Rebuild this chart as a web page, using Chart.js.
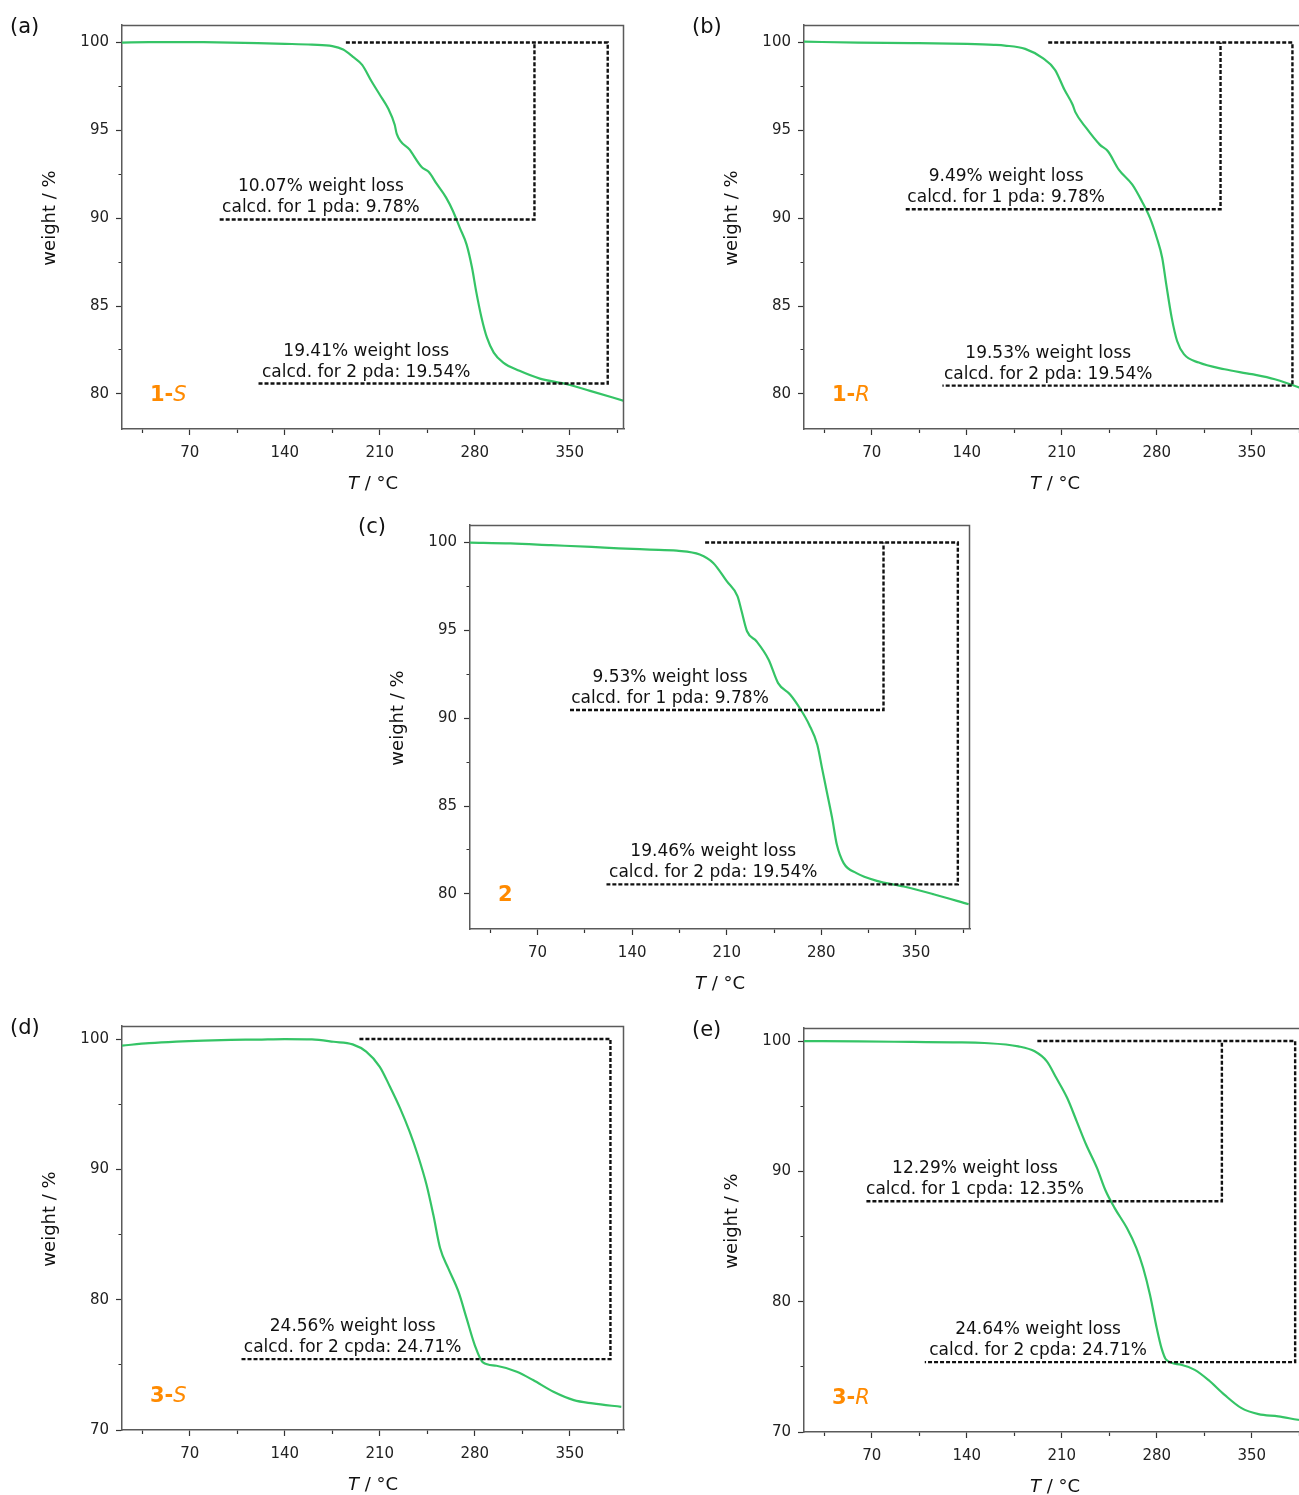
<!DOCTYPE html>
<html>
<head>
<meta charset="utf-8">
<title>TGA curves</title>
<script src="https://cdn.jsdelivr.net/npm/chart.js@4.4.1/dist/chart.umd.min.js"></script>
<style>
  html, body { margin: 0; padding: 0; background: #fff; overflow: hidden; width: 1299px; height: 1495px; }
  .panel { position: absolute; }
  .panel canvas { display: block; }
</style>
</head>
<body>
<script>
// ---- TGA traces: temperature (°C) and residual weight (%) ----
const temp1S   = [20,40,60,80,100,120,140,160,175,183,190,197,204,210,216,221,222.5,232,241,246,252,259,264,269,274,278,281,285,289,294,301,313,328,348,365,390];
const weight1S = [100.0,100.02,100.03,100.02,100.0,99.97,99.93,99.88,99.8,99.6,99.2,98.73,97.78,97.03,96.27,95.32,94.8,93.9,92.9,92.64,91.95,91.16,90.4,89.45,88.5,87.18,85.85,84.34,83.2,82.35,81.78,81.31,80.87,80.55,80.17,79.6];

const temp1R   = [20,60,100,140,160,168,183,196,205,212,218,220,228,238,244,252,262,269,275,280,284,287,291,295,300,311,330,350,367,385,390];
const weight1R = [100.05,100.0,99.97,99.92,99.87,99.83,99.64,99.11,98.45,97.31,96.46,96.04,95.14,94.19,93.81,92.77,91.91,90.97,90.02,88.89,87.75,86.23,84.34,83.01,82.26,81.78,81.4,81.12,80.83,80.36,80.2];

const temp2    = [20,50,80,110,130,153,173,190,200,210,218,221,225,232,241,248,257,264,271,277,280.5,284,288,291.5,296.5,306,321,341,363,389];
const weight2  = [100.0,99.95,99.85,99.75,99.67,99.6,99.54,99.32,98.84,97.8,96.94,96.09,94.95,94.38,93.33,92.0,91.34,90.58,89.63,88.49,87.16,85.83,84.31,82.79,81.75,81.18,80.74,80.42,79.98,79.41];

const temp3S   = [20,40,60,80,100,120,140,160,176,190,200,210,217.5,225,232,238,244.5,249.5,254.5,260.5,268,274,280,286,296,311,323,338,353,367,388];
const weight3S = [99.5,99.68,99.8,99.88,99.93,99.96,100.0,99.97,99.79,99.59,99.03,97.87,96.34,94.68,92.89,91.1,88.8,86.49,83.94,82.4,80.61,78.56,76.52,75.19,74.93,74.47,73.83,72.93,72.29,72.04,71.78];

const temp3R   = [20,60,100,130,153,178,190,199,206,214,221,228,236,242,249,258,265,270,275,280,283.5,287,298,308,318,330,342.5,355,369.5,384,390];
const weight3R = [100.0,99.97,99.93,99.9,99.85,99.59,99.21,98.44,97.16,95.63,93.84,92.04,90.25,88.59,87.18,85.65,84.11,82.58,80.53,77.97,76.44,75.54,75.16,74.77,74.0,72.85,71.83,71.37,71.2,70.94,70.85];

// ---- measured weight losses (%) and calculated values per ligand count ----
const loss1S = [10.07, 19.41];  const calc1S = [9.78, 19.54];
const loss1R = [9.49, 19.53];   const calc1R = [9.78, 19.54];
const loss2  = [9.53, 19.46];   const calc2  = [9.78, 19.54];
const loss3S = [24.56];         const calc3S = [24.71];
const loss3R = [12.29, 24.64];  const calc3R = [12.35, 24.71];
const ligandCount3S = [2];      // only the two-ligand step is marked for 3-S

// ---- temperatures bounding the dashed loss brackets ----
// [step-1 start, step-1 corner, top start, outer corner, step-2 start]
const bracket1S = [92, 324, 185, 378, 119.5];
const bracket1R = [95, 327, 200, 380, 122];
const bracket2  = [94, 326, 194, 381, 121];
const bracket3R = [66, 328, 192, 382, 109];
// [top start, outer corner, step start]
const bracket3S = [195, 380, 107];

// ---- temperatures at which the loss captions are centred ----
const caption1S = [166.6, 200];
const caption1R = [169, 200];
const caption2  = [168, 200];
const caption3S = [190];
const caption3R = [146, 192.5];

// ---- axis ticks ----
const tempRange   = [20, 390];
const xMajorTicks = [70, 140, 210, 280, 350];
const xMinorTicks = [35, 105, 175, 245, 315, 385];
const yRangeNarrow   = [78, 101];
const yMajorNarrow   = [80, 85, 90, 95, 100];
const yMinorNarrow   = [82.5, 87.5, 92.5, 97.5];
const yRangeWide     = [70, 101];
const yMajorWide     = [70, 80, 90, 100];
const yMinorWide     = [75, 85, 95];

// ---------------------------------------------------------------
const FONT = '"DejaVu Sans", "Liberation Sans", sans-serif';
Chart.defaults.font.family = FONT;
Chart.defaults.color = '#222';

const GREEN = '#35c466';
const ORANGE = '#ff8a00';
const FRAME = '#5a5a5a';
const DASH_COLOR = '#111';

function zip(xs, ys) { return xs.map((x, i) => ({ x, y: ys[i] })); }
function f(style, weight, size) { return `${style} ${weight} ${size}px ${FONT}`; }

function drawRuns(ctx, runs, x, y, align) {
  let total = 0;
  runs.forEach(r => { ctx.font = r.font; r.w = ctx.measureText(r.text).width; total += r.w; });
  let cx = align === 'center' ? x - total / 2 : x;
  ctx.textAlign = 'left';
  runs.forEach(r => { ctx.font = r.font; ctx.fillStyle = r.color; ctx.fillText(r.text, cx, y); cx += r.w; });
}

function lossCaptions(losses, calcs, ligand, counts) {
  return losses.map((l, i) => [
    `${l.toFixed(2)}% weight loss`,
    `calcd. for ${counts ? counts[i] : i + 1} ${ligand}: ${calcs[i].toFixed(2)}%`
  ]);
}

function bracketSets(br, levels) {
  if (levels.length === 1) {
    return [[{ x: br[0], y: 100 }, { x: br[1], y: 100 }, { x: br[1], y: levels[0] }, { x: br[2], y: levels[0] }]];
  }
  return [
    [{ x: br[0], y: levels[0] }, { x: br[1], y: levels[0] }, { x: br[1], y: 100 }],
    [{ x: br[2], y: 100 }, { x: br[3], y: 100 }, { x: br[3], y: levels[1] }, { x: br[4], y: levels[1] }]
  ];
}

const AXIS_W = 122, AXIS_H = 70, PAD_TOP = 25, PAD_RIGHT = 10;

function makePanel(p) {
  const cw = AXIS_W + p.plotW + PAD_RIGHT;
  const ch = PAD_TOP + p.plotH + AXIS_H;
  const wrap = document.createElement('div');
  wrap.className = 'panel';
  wrap.style.left = (p.left - AXIS_W) + 'px';
  wrap.style.top = (p.top - PAD_TOP) + 'px';
  const canvas = document.createElement('canvas');
  canvas.width = cw; canvas.height = ch;
  canvas.style.width = cw + 'px'; canvas.style.height = ch + 'px';
  wrap.appendChild(canvas);
  document.body.appendChild(wrap);

  const levels = p.losses.map(l => 100 - l);
  const captions = lossCaptions(p.losses, p.calcs, p.ligand, p.counts);

  const dashed = bracketSets(p.bracket, levels).map(pts => ({
    data: pts, borderColor: DASH_COLOR, borderWidth: 2.4, borderDash: [4, 2],
    pointRadius: 0, tension: 0, fill: false
  }));

  const overlay = {
    id: 'overlay' + p.letter,
    afterDatasetsDraw(chart) {
      const { ctx, chartArea: a, scales: { x, y } } = chart;
      ctx.save();
      // top and right edges of the frame
      ctx.strokeStyle = FRAME; ctx.lineWidth = 1.5; ctx.setLineDash([]);
      ctx.beginPath();
      ctx.moveTo(a.left, a.top + 0.5); ctx.lineTo(a.right - 0.5, a.top + 0.5); ctx.lineTo(a.right - 0.5, a.bottom);
      ctx.stroke();

      // loss captions above each dashed step
      ctx.fillStyle = '#111'; ctx.font = f('normal', 'normal', 17);
      ctx.textAlign = 'center'; ctx.textBaseline = 'alphabetic';
      captions.forEach((c, i) => {
        const px = x.getPixelForValue(p.captionT[i]);
        const py = y.getPixelForValue(levels[i]);
        ctx.fillText(c[0], px, py - 28);
        ctx.fillText(c[1], px, py - 7);
      });

      // compound name
      drawRuns(ctx, p.name, a.left + 28, a.bottom - 28, 'left');

      // panel letter
      ctx.fillStyle = '#111'; ctx.font = f('normal', 'normal', 21); ctx.textAlign = 'left';
      ctx.fillText(p.letter, a.left - 112, a.top + 8);

      // axis titles
      ctx.save();
      ctx.translate(a.left - 72, (a.top + a.bottom) / 2 - 9);
      ctx.rotate(-Math.PI / 2);
      ctx.font = f('normal', 'normal', 18); ctx.textAlign = 'center'; ctx.textBaseline = 'middle';
      ctx.fillStyle = '#111';
      ctx.fillText('weight / %', 0, 0);
      ctx.restore();
      ctx.textBaseline = 'alphabetic';
      drawRuns(ctx, [
        { text: 'T', font: f('italic', 'normal', 18), color: '#111' },
        { text: ' / °C', font: f('normal', 'normal', 18), color: '#111' }
      ], (a.left + a.right) / 2, a.bottom + 60, 'center');
      ctx.restore();
    }
  };

  const zeroPad = s => { s.paddingLeft = 0; s.paddingRight = 0; s.paddingTop = 0; s.paddingBottom = 0; };
  const xTicks = [...xMajorTicks, ...xMinorTicks].sort((a, b) => a - b);
  const yTicks = [...p.yMajor, ...p.yMinor].sort((a, b) => a - b);

  new Chart(canvas, {
    type: 'line',
    data: {
      datasets: [
        ...dashed,
        { data: zip(p.temps, p.weights), borderColor: GREEN, borderWidth: 2.2, pointRadius: 0,
          cubicInterpolationMode: 'monotone', fill: false }
      ]
    },
    options: {
      responsive: false,
      animation: false,
      devicePixelRatio: 1,
      events: [],
      layout: { padding: { top: PAD_TOP, right: PAD_RIGHT, left: 0, bottom: 0 }, autoPadding: false },
      plugins: { legend: { display: false }, tooltip: { enabled: false } },
      scales: {
        x: {
          type: 'linear', min: tempRange[0], max: tempRange[1],
          afterBuildTicks: s => { s.ticks = xTicks.map(v => ({ value: v })); },
          afterFit: s => { s.height = AXIS_H; zeroPad(s); },
          ticks: {
            autoSkip: false, maxRotation: 0, minRotation: 0, padding: 9,
            font: { size: 15 }, color: '#222',
            callback: v => xMajorTicks.includes(v) ? String(v) : ''
          },
          grid: {
            drawOnChartArea: false, tickLength: 6, tickColor: '#333', tickWidth: 1.2,
            tickBorderDash: c => xMajorTicks.includes(c.tick.value) ? [] : [3.5, 100]
          },
          border: { display: true, color: FRAME, width: 1.5 }
        },
        y: {
          type: 'linear', min: p.yRange[0], max: p.yRange[1],
          afterBuildTicks: s => { s.ticks = yTicks.map(v => ({ value: v })); },
          afterFit: s => { s.width = AXIS_W; zeroPad(s); },
          ticks: {
            autoSkip: false, padding: 7, font: { size: 15 }, color: '#222',
            callback: v => p.yMajor.includes(v) ? String(v) : ''
          },
          grid: {
            drawOnChartArea: false, tickLength: 6, tickColor: '#333', tickWidth: 1.2,
            tickBorderDash: c => p.yMajor.includes(c.tick.value) ? [] : [0, 2.5, 3.5, 100]
          },
          border: { display: true, color: FRAME, width: 1.5 }
        }
      }
    },
    plugins: [overlay]
  });
}

const nameRuns = (num, letter) => {
  const runs = [{ text: num + (letter ? '-' : ''), font: f('normal', 'bold', 21), color: ORANGE }];
  if (letter) runs.push({ text: letter, font: f('italic', 'normal', 21), color: ORANGE });
  return runs;
};

makePanel({ letter: '(a)', left: 122, top: 25, plotW: 502, plotH: 404,
  temps: temp1S, weights: weight1S, losses: loss1S, calcs: calc1S, ligand: 'pda',
  bracket: bracket1S, captionT: caption1S, yRange: yRangeNarrow, yMajor: yMajorNarrow, yMinor: yMinorNarrow,
  name: nameRuns('1', 'S') });

makePanel({ letter: '(b)', left: 804, top: 25, plotW: 502, plotH: 404,
  temps: temp1R, weights: weight1R, losses: loss1R, calcs: calc1R, ligand: 'pda',
  bracket: bracket1R, captionT: caption1R, yRange: yRangeNarrow, yMajor: yMajorNarrow, yMinor: yMinorNarrow,
  name: nameRuns('1', 'R') });

makePanel({ letter: '(c)', left: 470, top: 525, plotW: 500, plotH: 404,
  temps: temp2, weights: weight2, losses: loss2, calcs: calc2, ligand: 'pda',
  bracket: bracket2, captionT: caption2, yRange: yRangeNarrow, yMajor: yMajorNarrow, yMinor: yMinorNarrow,
  name: nameRuns('2', '') });

makePanel({ letter: '(d)', left: 122, top: 1026, plotW: 502, plotH: 404,
  temps: temp3S, weights: weight3S, losses: loss3S, calcs: calc3S, ligand: 'cpda', counts: ligandCount3S,
  bracket: bracket3S, captionT: caption3S, yRange: yRangeWide, yMajor: yMajorWide, yMinor: yMinorWide,
  name: nameRuns('3', 'S') });

makePanel({ letter: '(e)', left: 804, top: 1028, plotW: 502, plotH: 404,
  temps: temp3R, weights: weight3R, losses: loss3R, calcs: calc3R, ligand: 'cpda',
  bracket: bracket3R, captionT: caption3R, yRange: yRangeWide, yMajor: yMajorWide, yMinor: yMinorWide,
  name: nameRuns('3', 'R') });
</script>
</body>
</html>
